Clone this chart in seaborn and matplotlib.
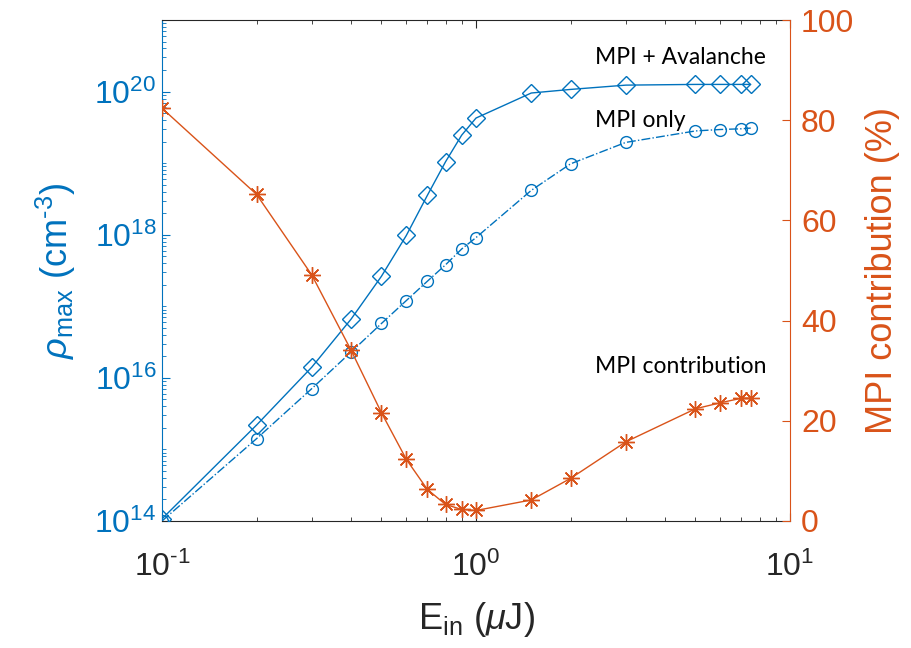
import numpy as np
import pandas as pd
import matplotlib
matplotlib.use("Agg")
import matplotlib.pyplot as plt
import matplotlib.ticker as mticker
import seaborn as sns

# Pulse energy (uJ)
energy = [0.1, 0.2, 0.3, 0.4, 0.5, 0.6, 0.7, 0.8, 0.9, 1.0, 1.5, 2, 3, 5, 6, 7, 7.5]
# log10 of peak carrier density (cm^-3)
log_rho_total = [14.03, 15.34, 16.15, 16.82, 17.42, 17.99, 18.55, 19.02, 19.39, 19.63,
                 19.98, 20.03, 20.09, 20.10, 20.10, 20.10, 20.10]
log_rho_mpi = [14.0, 15.15, 15.85, 16.36, 16.76, 17.08, 17.35, 17.58, 17.80, 17.96,
               18.62, 18.99, 19.29, 19.45, 19.47, 19.48, 19.49]
# share of carriers generated by multiphoton ionization (%)
mpi_percent = [82.4, 65.2, 49.1, 34.1, 21.6, 12.3, 6.3, 3.3, 2.3, 2.1,
               4.2, 8.5, 15.8, 22.4, 23.6, 24.5, 24.5]

left_ticks = [1e14, 1e16, 1e18, 1e20]
right_ticks = [0, 20, 40, 60, 80, 100]

blue = "#0072BD"
orange = "#D95319"
dark = "#262626"

sns.set_theme(style="white")
plt.rcParams["font.family"] = ["Liberation Sans", "DejaVu Sans"]
plt.rcParams["mathtext.fontset"] = "custom"
plt.rcParams["mathtext.rm"] = "Liberation Sans"
plt.rcParams["mathtext.it"] = "Liberation Sans:italic"
plt.rcParams["mathtext.bf"] = "Liberation Sans:bold"
plt.rcParams["axes.unicode_minus"] = False

df = pd.DataFrame({
    "E": energy,
    "total": np.power(10.0, log_rho_total),
    "mpi": np.power(10.0, log_rho_mpi),
    "pct": mpi_percent,
})


def pow10_label(value, pos):
    """Decade label with a plain hyphen for negative exponents."""
    exp = int(round(np.log10(value)))
    return r"$10^{\text{%d}}$" % exp


fig = plt.figure(figsize=(9.12, 6.48), dpi=100)
ax = fig.add_axes([162 / 912, 1 - 521 / 648, 628 / 912, 501 / 648])
ax2 = ax.twinx()

sns.lineplot(data=df, x="E", y="total", ax=ax, color=blue, lw=1.0,
             marker="D", markersize=9, markerfacecolor="none",
             markeredgecolor=blue, markeredgewidth=1.0, zorder=3)
sns.lineplot(data=df, x="E", y="mpi", ax=ax, color=blue, lw=1.0, linestyle="-.",
             marker="o", markersize=8.5, markerfacecolor="none",
             markeredgecolor=blue, markeredgewidth=1.0, zorder=3)
sns.lineplot(data=df, x="E", y="pct", ax=ax2, color=orange, lw=1.0,
             marker=(8, 2, 0), markersize=12, markerfacecolor=orange,
             markeredgecolor=orange, markeredgewidth=1.0, zorder=3)

ax.set_xscale("log")
ax.set_yscale("log")
ax.set_xlim(0.1, 10)
ax.set_ylim(1e14, 1e21)
ax2.set_ylim(0, 100)

ax.yaxis.set_major_locator(mticker.FixedLocator(left_ticks))
ax.yaxis.set_major_formatter(mticker.FuncFormatter(pow10_label))
ax.yaxis.set_minor_locator(mticker.LogLocator(base=10, subs=np.arange(1, 10), numticks=30))
ax.yaxis.set_minor_formatter(mticker.NullFormatter())
ax.xaxis.set_major_formatter(mticker.FuncFormatter(pow10_label))
ax.xaxis.set_minor_locator(mticker.LogLocator(base=10, subs=np.arange(2, 10), numticks=30))
ax.xaxis.set_minor_formatter(mticker.NullFormatter())
ax2.yaxis.set_major_locator(mticker.FixedLocator(right_ticks))

ax.tick_params(axis="x", which="both", direction="in", top=True, bottom=True,
               colors=dark, labelsize=23, pad=22)
ax.tick_params(axis="x", which="major", length=6, width=0.8)
ax.tick_params(axis="x", which="minor", length=3, width=0.6)
ax.tick_params(axis="y", which="both", direction="in", left=True, right=False,
               colors=blue, labelsize=23, pad=4)
ax.tick_params(axis="y", which="major", length=6, width=0.8)
ax.tick_params(axis="y", which="minor", length=3, width=0.6)
ax2.tick_params(axis="y", which="both", direction="in", right=True, left=False,
                colors=orange, labelsize=23, length=6, width=0.8, pad=8)

for sp in ax.spines.values():
    sp.set_linewidth(0.8)
ax.spines["top"].set_color(dark)
ax.spines["bottom"].set_color(dark)
ax.spines["left"].set_color(blue)
ax.spines["right"].set_visible(False)
ax2.spines["right"].set_color(orange)
ax2.spines["right"].set_linewidth(0.8)
for sp in ("left", "top", "bottom"):
    ax2.spines[sp].set_visible(False)

ax.set_xlabel(r"E$_{\mathrm{in}}$ ($\mu$J)", fontsize=26, color=dark, labelpad=12)
ax.set_ylabel(r"$\rho_{\mathrm{max}}$ (cm$^{\text{-3}}$)", fontsize=26, color=blue, labelpad=12)
ax2.set_ylabel("MPI contribution (%)", fontsize=26, color=orange, labelpad=8)

note_kw = dict(transform=ax.transAxes, fontsize=16.5, color="black",
               family=["Lato", "DejaVu Sans"], ha="left", va="baseline")
ax.text(0.689, 0.912, "MPI + Avalanche", **note_kw)
ax.text(0.689, 0.786, "MPI only", **note_kw)
ax.text(0.689, 0.295, "MPI contribution", **note_kw)

ax.grid(False)
ax2.grid(False)
fig.savefig("out.png", dpi=100, facecolor="white")
